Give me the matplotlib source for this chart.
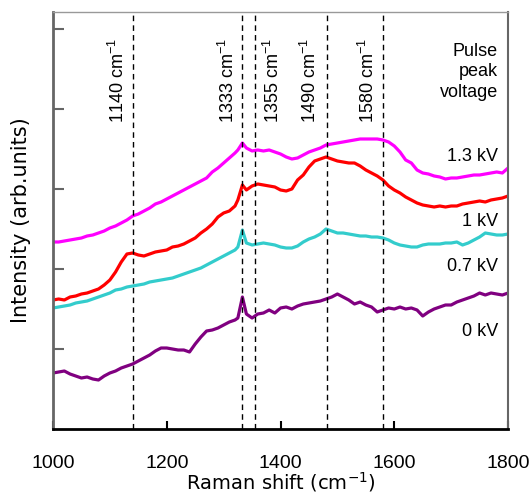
import matplotlib
matplotlib.use("Agg")
import matplotlib.pyplot as plt

plt.rcParams['font.family'] = ['Liberation Sans', 'DejaVu Sans']
plt.rcParams['mathtext.fontset'] = 'custom'
plt.rcParams['mathtext.rm'] = 'Liberation Sans'
plt.rcParams['mathtext.it'] = 'Liberation Sans'
plt.rcParams['mathtext.bf'] = 'Liberation Sans'

# Raman shift (cm^-1)
shift = ([1000, 1010, 1020, 1030, 1040, 1050, 1060, 1070, 1080, 1090,
          1100, 1110, 1120, 1130, 1140, 1150, 1160, 1170, 1180, 1190,
          1200, 1210, 1220, 1230, 1240, 1250, 1260, 1270, 1280, 1290,
          1300, 1310, 1320, 1325, 1333, 1340, 1350, 1360, 1370, 1380,
          1390, 1400, 1410, 1420, 1430, 1440, 1450, 1460, 1470, 1480,
          1490, 1500, 1510, 1520, 1530, 1540, 1550, 1560, 1570, 1580,
          1590, 1600, 1610, 1620, 1630, 1640, 1650, 1660, 1670, 1680,
          1690, 1700, 1710, 1720, 1730, 1740, 1750, 1760, 1770, 1780,
          1790, 1800])

# Intensities (arb. units, offset traces)
kv13 = [187, 187, 188, 189, 190, 191, 193, 194, 196, 198,
        201, 203, 206, 209, 213, 215, 218, 221, 225, 227,
        230, 233, 236, 239, 242, 245, 248, 251, 257, 261,
        266, 271, 276, 279, 286, 281, 278, 279, 278, 279,
        277, 275, 272, 270, 271, 274, 277, 279, 281, 284,
        285, 286, 287, 288, 289, 290, 290, 290, 290, 289,
        287, 283, 277, 269, 266, 259, 256, 255, 253, 252,
        250, 251, 251, 252, 253, 254, 254, 255, 256, 257,
        256, 261]
kv10 = [129, 130, 129, 132, 133, 135, 136, 138, 140, 144,
        149, 157, 167, 175, 176, 174, 173, 175, 177, 178,
        179, 182, 183, 185, 188, 191, 196, 200, 205, 212,
        216, 218, 223, 229, 244, 239, 243, 245, 244, 243,
        242, 239, 238, 240, 249, 254, 262, 268, 270, 272,
        270, 268, 267, 266, 266, 263, 259, 256, 253, 249,
        243, 239, 236, 232, 229, 226, 224, 223, 222, 223,
        222, 223, 223, 225, 226, 227, 228, 227, 229, 230,
        231, 233]
kv07 = [121, 122, 123, 124, 126, 127, 128, 130, 132, 134,
        136, 139, 140, 142, 143, 144, 145, 147, 148, 149,
        150, 151, 153, 155, 157, 159, 161, 164, 167, 170,
        173, 176, 179, 182, 199, 186, 184, 185, 186, 185,
        184, 182, 181, 181, 183, 187, 190, 192, 195, 200,
        198, 196, 196, 195, 194, 193, 193, 192, 192, 191,
        189, 186, 184, 183, 182, 182, 184, 185, 185, 185,
        186, 186, 187, 184, 186, 189, 192, 196, 195, 194,
        194, 195]
kv00 = [56, 57, 58, 55, 53, 51, 52, 50, 49, 53,
        56, 58, 61, 63, 65, 68, 71, 74, 78, 81,
        81, 80, 79, 79, 77, 85, 92, 98, 99, 101,
        104, 107, 109, 111, 132, 115, 111, 115, 116, 119,
        116, 121, 122, 120, 123, 125, 126, 127, 128, 130,
        132, 135, 132, 129, 125, 127, 124, 122, 117, 119,
        121, 120, 122, 120, 121, 119, 113, 117, 120, 122,
        124, 124, 127, 129, 131, 133, 136, 134, 136, 135,
        134, 136]

series = [kv13, kv10, kv07, kv00]
series_labels = ['1.3 kV', '1 kV', '0.7 kV', '0 kV']
colors = ['#FF00FF', '#FF0000', '#33CCCC', '#800080']

peak_pos = [1140, 1333, 1355, 1481, 1580]
peak_labels = ['1140', '1333', '1355', '1490', '1580']
peak_text_x = [1114, 1308, 1387, 1452, 1554]

fig = plt.figure(figsize=(5.32, 4.93), dpi=100)
ax = fig.add_axes([0.0996, 0.1298, 0.8554, 0.8459])

for y, c in zip(series, colors):
    ax.plot(shift, y, color=c, lw=2.3, solid_joinstyle='round')

for p in peak_pos:
    ax.axvline(p, color='black', lw=1.0, ls=(0, (4, 3)))

for tx, lab in zip(peak_text_x, peak_labels):
    ax.text(tx, 306, lab + r' cm$^{\mathregular{-1}}$', rotation=90,
            ha='center', va='bottom', fontsize=13)

ax.text(1782, 357, 'Pulse\npeak\nvoltage', ha='right', va='center',
        fontsize=13, linespacing=1.25)
label_y = [272, 207, 162, 98]
for ly, lab in zip(label_y, series_labels):
    ax.text(1782, ly, lab, ha='right', va='center', fontsize=13)

ax.set_xlim(1000, 1800)
ax.set_ylim(0, 417)
ax.set_xticks([1000, 1200, 1400, 1600, 1800])
ax.set_yticks([80, 160, 240, 320, 400])
ax.set_yticklabels([])
ax.tick_params(axis='x', direction='in', length=6, width=1.5, color='black',
               labelsize=14, pad=19)
ax.tick_params(axis='y', direction='in', length=8, width=1.5, color='#666666')
ax.set_xlabel(r'Raman shift (cm$^{\mathregular{-1}}$)', fontsize=14,
              family=['DejaVu Sans'], labelpad=-1)
ax.set_ylabel('Intensity (arb.units)', fontsize=15, family=['DejaVu Sans'],
              labelpad=12)

ax.spines['bottom'].set_color('black')
ax.spines['bottom'].set_linewidth(2)
ax.spines['left'].set_color('#666666')
ax.spines['left'].set_linewidth(2)
ax.spines['top'].set_color('#999999')
ax.spines['top'].set_linewidth(1)
ax.spines['right'].set_color('#666666')
ax.spines['right'].set_linewidth(1.5)

fig.savefig('out.png', dpi=100)
